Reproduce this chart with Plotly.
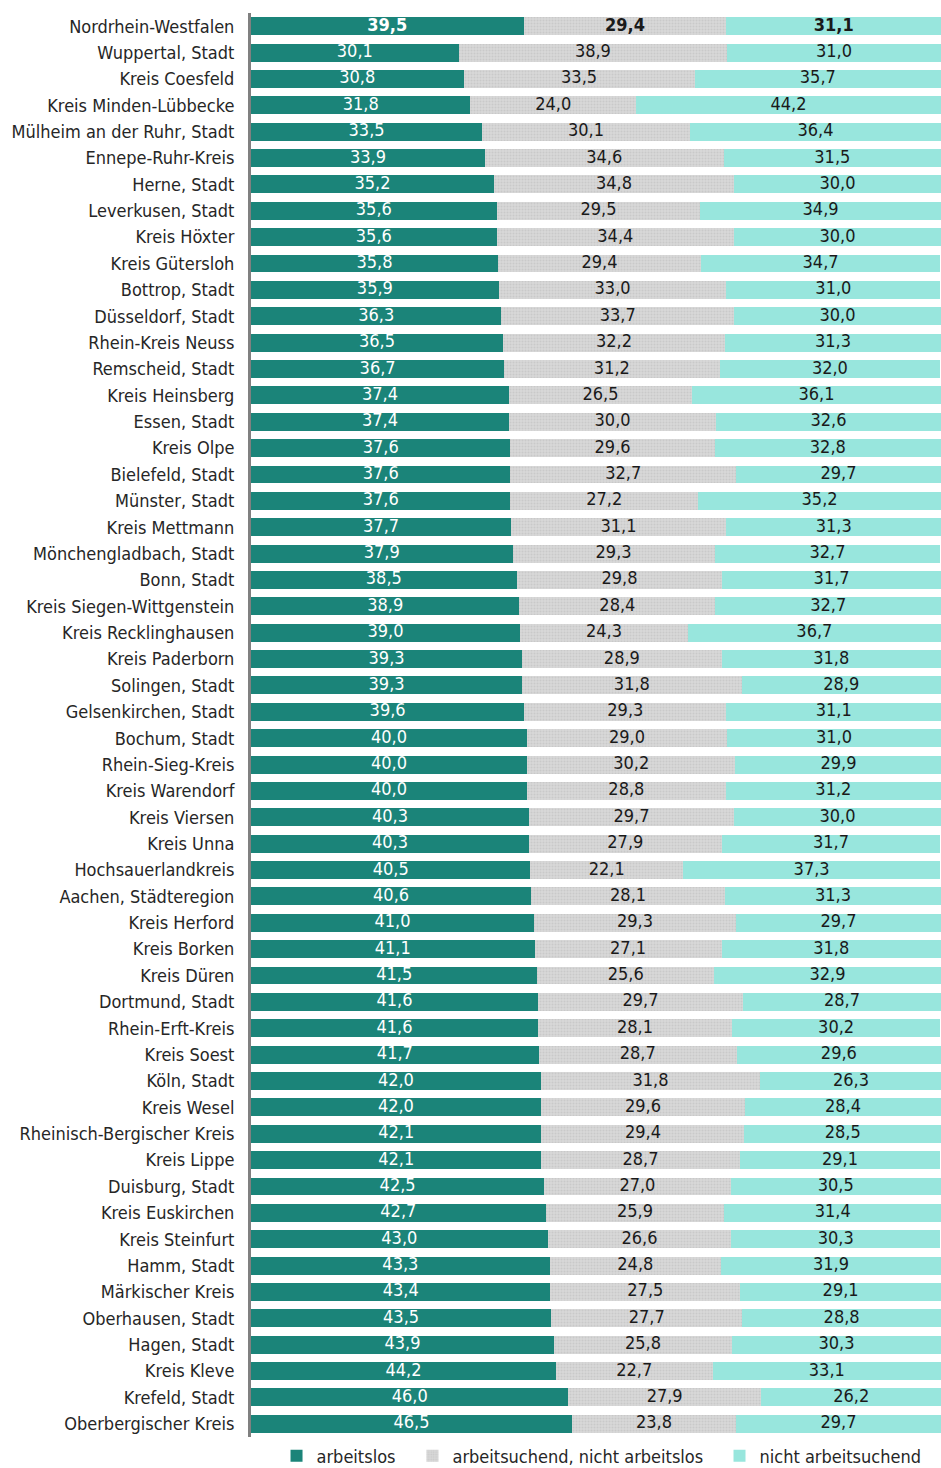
import plotly.graph_objects as go

regions = [
    "Nordrhein-Westfalen", "Wuppertal, Stadt", "Kreis Coesfeld", "Kreis Minden-Lübbecke",
    "Mülheim an der Ruhr, Stadt", "Ennepe-Ruhr-Kreis", "Herne, Stadt", "Leverkusen, Stadt",
    "Kreis Höxter", "Kreis Gütersloh", "Bottrop, Stadt", "Düsseldorf, Stadt",
    "Rhein-Kreis Neuss", "Remscheid, Stadt", "Kreis Heinsberg", "Essen, Stadt",
    "Kreis Olpe", "Bielefeld, Stadt", "Münster, Stadt", "Kreis Mettmann",
    "Mönchengladbach, Stadt", "Bonn, Stadt", "Kreis Siegen-Wittgenstein", "Kreis Recklinghausen",
    "Kreis Paderborn", "Solingen, Stadt", "Gelsenkirchen, Stadt", "Bochum, Stadt",
    "Rhein-Sieg-Kreis", "Kreis Warendorf", "Kreis Viersen", "Kreis Unna",
    "Hochsauerlandkreis", "Aachen, Städteregion", "Kreis Herford", "Kreis Borken",
    "Kreis Düren", "Dortmund, Stadt", "Rhein-Erft-Kreis", "Kreis Soest",
    "Köln, Stadt", "Kreis Wesel", "Rheinisch-Bergischer Kreis", "Kreis Lippe",
    "Duisburg, Stadt", "Kreis Euskirchen", "Kreis Steinfurt", "Hamm, Stadt",
    "Märkischer Kreis", "Oberhausen, Stadt", "Hagen, Stadt", "Kreis Kleve",
    "Krefeld, Stadt", "Oberbergischer Kreis",
]

arbeitslos = [
    39.5, 30.1, 30.8, 31.8, 33.5, 33.9, 35.2, 35.6, 35.6, 35.8, 35.9, 36.3, 36.5, 36.7,
    37.4, 37.4, 37.6, 37.6, 37.6, 37.7, 37.9, 38.5, 38.9, 39.0, 39.3, 39.3, 39.6, 40.0,
    40.0, 40.0, 40.3, 40.3, 40.5, 40.6, 41.0, 41.1, 41.5, 41.6, 41.6, 41.7, 42.0, 42.0,
    42.1, 42.1, 42.5, 42.7, 43.0, 43.3, 43.4, 43.5, 43.9, 44.2, 46.0, 46.5,
]

arbeitsuchend = [
    29.4, 38.9, 33.5, 24.0, 30.1, 34.6, 34.8, 29.5, 34.4, 29.4, 33.0, 33.7, 32.2, 31.2,
    26.5, 30.0, 29.6, 32.7, 27.2, 31.1, 29.3, 29.8, 28.4, 24.3, 28.9, 31.8, 29.3, 29.0,
    30.2, 28.8, 29.7, 27.9, 22.1, 28.1, 29.3, 27.1, 25.6, 29.7, 28.1, 28.7, 31.8, 29.6,
    29.4, 28.7, 27.0, 25.9, 26.6, 24.8, 27.5, 27.7, 25.8, 22.7, 27.9, 23.8,
]

nicht_arbeitsuchend = [
    31.1, 31.0, 35.7, 44.2, 36.4, 31.5, 30.0, 34.9, 30.0, 34.7, 31.0, 30.0, 31.3, 32.0,
    36.1, 32.6, 32.8, 29.7, 35.2, 31.3, 32.7, 31.7, 32.7, 36.7, 31.8, 28.9, 31.1, 31.0,
    29.9, 31.2, 30.0, 31.7, 37.3, 31.3, 29.7, 31.8, 32.9, 28.7, 30.2, 29.6, 26.3, 28.4,
    28.5, 29.1, 30.5, 31.4, 30.3, 31.9, 29.1, 28.8, 30.3, 33.1, 26.2, 29.7,
]

series_names = ["arbeitslos", "arbeitsuchend, nicht arbeitslos", "nicht arbeitsuchend"]

FONT = "Tahoma, 'DejaVu Sans Condensed', 'DejaVu Sans', sans-serif"
FS = 18
TEAL = "#1b8479"
GREY = "#d9d9d9"
TURQ = "#98e6dd"


def fmt(v, bold):
    s = f"{v:.1f}".replace(".", ",")
    return f"<b>{s}</b>" if bold else s


fig = go.Figure()

series = [arbeitslos, arbeitsuchend, nicht_arbeitsuchend]
colors = [TEAL, GREY, TURQ]
text_colors = ["#ffffff", "#1a1a1a", "#1a1a1a"]
legend_ids = ["legend", "legend2", "legend3"]
legend_x = [0.037, 0.234, 0.679]

for name, vals, col, lid in zip(series_names, series, colors, legend_ids):
    marker = dict(color=col, line=dict(width=0))
    if col == GREY:
        marker["pattern"] = dict(shape=".", size=3, solidity=0.35,
                                 fgcolor="#c9c9c9", bgcolor=GREY, fillmode="replace")
    fig.add_trace(go.Bar(
        x=vals, y=regions, orientation="h", name=name, marker=marker,
        hoverinfo="skip", legend=lid,
    ))

# value labels centred in each stacked segment
base = [0.0] * len(regions)
for vals, tcol in zip(series, text_colors):
    mids = [b + v / 2 for b, v in zip(base, vals)]
    fig.add_trace(go.Scatter(
        x=mids, y=regions, mode="text",
        text=[fmt(v, i == 0) for i, v in enumerate(vals)],
        textfont=dict(family=FONT, size=FS, color=tcol),
        showlegend=False, hoverinfo="skip", cliponaxis=False,
    ))
    base = [b + v for b, v in zip(base, vals)]

legend_style = dict(orientation="h", xanchor="left", y=-0.0134, yanchor="middle",
                    font=dict(family=FONT, size=FS, color="#262626"),
                    bgcolor="rgba(0,0,0,0)", itemwidth=30)

fig.update_layout(
    width=941, height=1468,
    barmode="stack", bargap=0.32,
    margin=dict(l=251, r=0, t=13, b=31, autoexpand=False),
    paper_bgcolor="white", plot_bgcolor="white",
    font=dict(family=FONT, size=FS, color="#262626"),
    showlegend=True,
    legend=dict(x=legend_x[0], **legend_style),
    legend2=dict(x=legend_x[1], **legend_style),
    legend3=dict(x=legend_x[2], **legend_style),
)
fig.update_xaxes(range=[0, 100], visible=False, fixedrange=True)
fig.update_yaxes(
    range=[len(regions) - 0.5, -0.5], autorange=False,
    categoryorder="array", categoryarray=regions,
    showline=True, linecolor="#808080", linewidth=3, ticks="",
    showgrid=False, ticklabelstandoff=10,
    tickfont=dict(family=FONT, size=FS, color="#262626"),
)

fig.write_html("out.html")
